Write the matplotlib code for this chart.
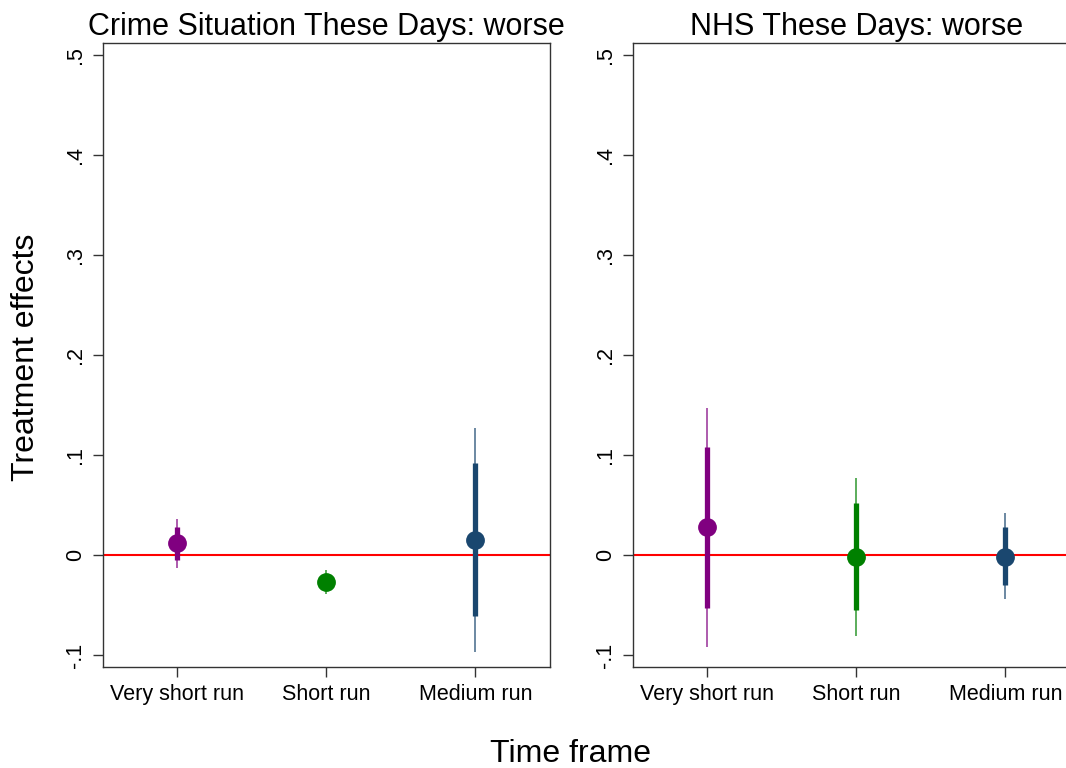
import matplotlib.pyplot as plt

plt.rcParams['font.family'] = ['Liberation Sans', 'DejaVu Sans']

# time frames and colours
frames = ['Very short run', 'Short run', 'Medium run']
colors = ['#800080', '#008000', '#1a476f']

titles = ['Crime Situation These Days: worse', 'NHS These Days: worse']

# point estimates
est_crime = [0.012, -0.027, 0.015]
est_nhs = [0.028, -0.002, -0.002]

# inner (thick) intervals
lo90_crime = [-0.005, -0.033, -0.061]
hi90_crime = [0.028, -0.021, 0.092]
lo90_nhs = [-0.053, -0.055, -0.030]
hi90_nhs = [0.108, 0.052, 0.028]

# outer (thin) intervals
lo95_crime = [-0.013, -0.039, -0.097]
hi95_crime = [0.036, -0.015, 0.127]
lo95_nhs = [-0.092, -0.081, -0.044]
hi95_nhs = [0.147, 0.077, 0.042]

yticks = [-0.1, 0, 0.1, 0.2, 0.3, 0.4, 0.5]
yticklabels = ['-.1', '0', '.1', '.2', '.3', '.4', '.5']

fig = plt.figure(figsize=(10.66, 7.68), dpi=100)
ax1 = fig.add_axes([0.0966, 0.1315, 0.4193, 0.8125])
ax2 = fig.add_axes([0.5938, 0.1315, 0.4193, 0.8125])

panels = [
    (ax1, est_crime, lo90_crime, hi90_crime, lo95_crime, hi95_crime),
    (ax2, est_nhs, lo90_nhs, hi90_nhs, lo95_nhs, hi95_nhs),
]

for (ax, est, lo90, hi90, lo95, hi95), title in zip(panels, titles):
    ax.axhline(0, color='red', lw=1.5, zorder=1)
    for i in range(len(frames)):
        x = i + 1
        ax.vlines(x, lo95[i], hi95[i], color=colors[i], lw=1.2, alpha=0.75, zorder=2)
        ax.vlines(x, lo90[i], hi90[i], color=colors[i], lw=3.8, zorder=3)
        ax.plot(x, est[i], 'o', color=colors[i], markersize=12.5, zorder=4)
    ax.set_xlim(0.5, 3.5)
    ax.set_ylim(-0.112, 0.512)
    ax.set_xticks([1, 2, 3])
    ax.set_xticklabels(frames, fontsize=15.5)
    ax.set_yticks(yticks)
    ax.set_yticklabels(yticklabels, fontsize=15.5, rotation=90, va='center')
    ax.tick_params(direction='out', length=7, width=1, color='#333333', pad=5)
    for sp in ax.spines.values():
        sp.set_color('#333333')
        sp.set_linewidth(1)
    ax.set_title(title, fontsize=22, pad=6)

fig.text(0.024, 0.5345, 'Treatment effects', rotation=90, fontsize=23,
         ha='center', va='center')
fig.text(0.535, 0.008, 'Time frame', fontsize=23, ha='center', va='baseline')

fig.savefig('out.png', dpi=100)
